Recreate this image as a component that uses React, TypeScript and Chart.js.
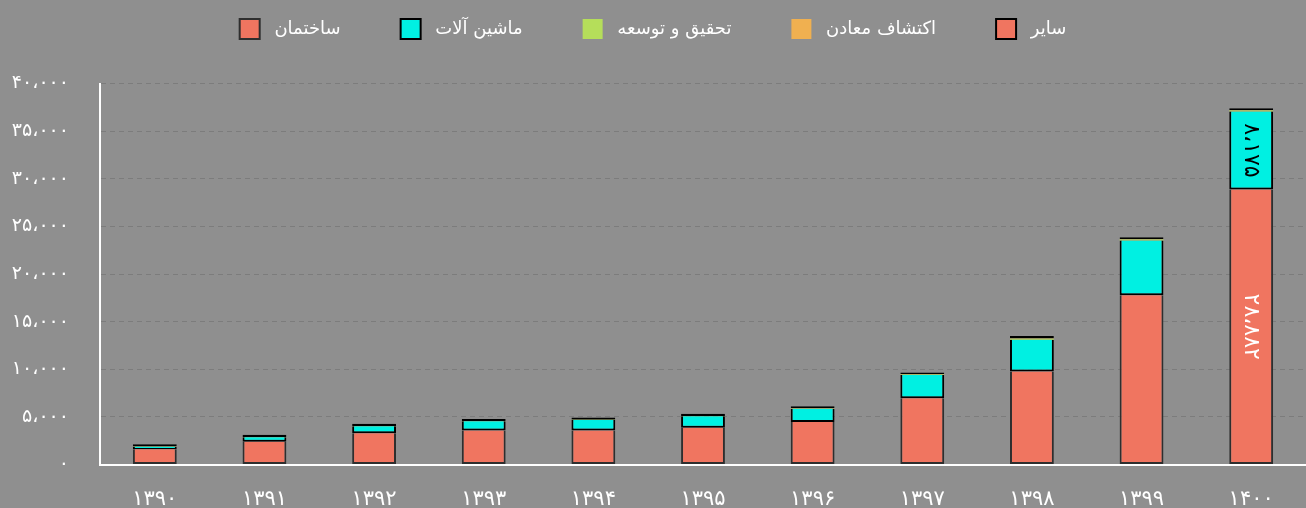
import React, { useEffect, useRef } from "react";
import { Chart, registerables } from "chart.js";

Chart.register(...registerables);

const years = ["۱۳۹۰", "۱۳۹۱", "۱۳۹۲", "۱۳۹۳", "۱۳۹۴", "۱۳۹۵", "۱۳۹۶", "۱۳۹۷", "۱۳۹۸", "۱۳۹۹", "۱۴۰۰"];
const construction = [1590, 2390, 3270, 3580, 3580, 3850, 4450, 6960, 9760, 17780, 28882];
const machinery = [270, 480, 740, 950, 1090, 1210, 1400, 2440, 3340, 5750, 8175];
const research = [20, 20, 30, 30, 30, 30, 40, 50, 100, 80, 100];
const mining = [10, 10, 10, 10, 10, 10, 10, 20, 30, 30, 30];
const other = [230, 230, 220, 220, 220, 220, 220, 200, 250, 230, 220];
const seriesNames = ["ساختمان", "ماشین آلات", "تحقیق و توسعه", "اکتشاف معادن", "سایر"];
const yMin = 0;
const yMax = 40000;
const yStep = 5000;
const labelledIndex = 10;
const labelledSeries = [0, 1];

const FONT = "'DejaVu Sans', sans-serif";
const BG = "#8f8f8f";
const faDigits = "۰۱۲۳۴۵۶۷۸۹";
const toFa = (n: number) =>
  Math.round(n)
    .toString()
    .replace(/\B(?=(\d{3})+(?!\d))/g, "،")
    .replace(/\d/g, (d) => faDigits[+d]);

const segmentLabels = {
  id: "segmentLabels",
  afterDatasetsDraw(chart: any) {
    const ctx = chart.ctx;
    labelledSeries.forEach((di) => {
      const meta = chart.getDatasetMeta(di);
      const el = meta.data[labelledIndex];
      if (!el) return;
      const v = chart.data.datasets[di].data[labelledIndex] as number;
      const cy = (el.y + el.base) / 2;
      ctx.save();
      ctx.translate(el.x, cy);
      ctx.rotate(Math.PI / 2);
      ctx.fillStyle = di === 0 ? "#ffffff" : "#000000";
      ctx.font = `22px ${FONT}`;
      ctx.textAlign = "center";
      ctx.textBaseline = "middle";
      ctx.fillText(toFa(v), 0, 0);
      ctx.restore();
    });
  },
};

export default function App() {
  const ref = useRef<HTMLCanvasElement>(null);
  useEffect(() => {
    document.body.style.margin = "0";
    document.body.style.background = BG;
    const chart = new Chart(ref.current!, {
      type: "bar",
      data: {
        labels: years,
        datasets: [
          {
            label: seriesNames[0],
            data: construction,
            backgroundColor: "#f07560",
            borderColor: "#2e2e2e",
            borderWidth: 2,
            borderSkipped: "end",
          },
          {
            label: seriesNames[1],
            data: machinery,
            backgroundColor: "#00f0e2",
            borderColor: "#000000",
            borderWidth: 2,
            borderSkipped: "end",
          },
          {
            label: seriesNames[2],
            data: research,
            backgroundColor: "#b5de5a",
            borderWidth: 0,
          },
          {
            label: seriesNames[3],
            data: mining,
            backgroundColor: "#f0b050",
            borderWidth: 0,
          },
          {
            label: seriesNames[4],
            data: other,
            backgroundColor: "#f07560",
            borderColor: "#000000",
            borderWidth: 2,
            borderSkipped: false,
          },
        ],
      },
      options: {
        animation: false,
        responsive: true,
        maintainAspectRatio: false,
        layout: { padding: { top: -41, left: 0, right: 0, bottom: 0 } },
        datasets: { bar: { barPercentage: 0.5, categoryPercentage: 0.8 } },
        plugins: {
          legend: {
            position: "top",
            weight: 1000,
            labels: {
              color: "#ffffff",
              font: { family: FONT, size: 18 },
              boxWidth: 20,
              boxHeight: 20,
              padding: 60,
              generateLabels: (c: any) =>
                Chart.defaults.plugins.legend.labels
                  .generateLabels(c)
                  .map((it: any) => ({ ...it, text: " " + it.text })),
            },
          } as any,
          title: {
            display: true,
            text: "",
            weight: 500,
            font: { size: 10 },
            padding: { top: 11, bottom: 11.5 },
          } as any,
          tooltip: { enabled: false },
        },
        scales: {
          x: {
            stacked: true,
            grid: { display: false, drawTicks: false },
            border: { display: true, color: "#ffffff", width: 2 },
            ticks: {
              color: "#ffffff",
              font: { family: FONT, size: 21 },
              padding: 22,
              maxRotation: 0,
            },
            afterFit: (scale: any) => {
              scale.height = 43.5;
            },
          },
          y: {
            stacked: true,
            min: yMin,
            max: yMax,
            grid: { color: "rgba(0,0,0,0.13)", drawTicks: false },
            border: { display: true, color: "#ffffff", width: 2, dash: [5, 4] },
            ticks: {
              stepSize: yStep,
              color: "#ffffff",
              font: { family: FONT, size: 19 },
              padding: 31,
              callback: (v: any) => toFa(Number(v)),
            },
            afterFit: (scale: any) => {
              scale.width = 100;
            },
          },
        },
      },
      plugins: [segmentLabels],
    });
    return () => chart.destroy();
  }, []);
  return (
    <div style={{ width: 1306, height: 508, position: "relative", background: BG }}>
      <canvas ref={ref} />
    </div>
  );
}
